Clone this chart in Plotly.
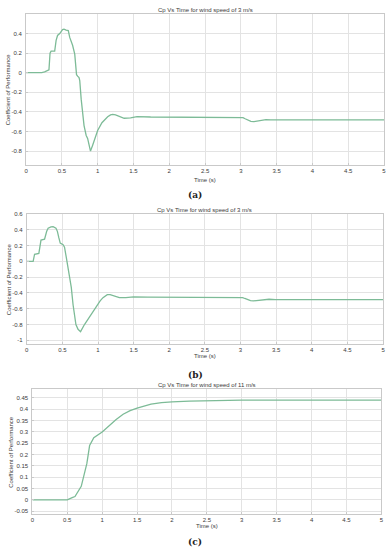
import plotly.graph_objects as go

# Panel (a): wind speed 3 m/s
t_a = [0, 0.22, 0.26, 0.29, 0.32, 0.335, 0.35, 0.40, 0.42, 0.44, 0.47, 0.51, 0.53, 0.56, 0.59,
       0.61, 0.63, 0.65, 0.68, 0.705, 0.72, 0.74, 0.75, 0.77, 0.81, 0.84, 0.86, 0.88, 0.90, 0.93,
       0.96, 1.00, 1.06, 1.10, 1.14, 1.18, 1.21, 1.25, 1.30, 1.37, 1.46, 1.55, 1.74, 3.00, 3.03,
       3.06, 3.10, 3.14, 3.18, 3.22, 3.26, 3.31, 3.35, 3.42, 3.49, 5.0]
cp_a = [0, 0, 0.008, 0.017, 0.03, 0.20, 0.22, 0.22, 0.33, 0.38, 0.40, 0.44, 0.445, 0.435, 0.43,
        0.36, 0.32, 0.28, 0.19, -0.02, -0.035, -0.05, -0.08, -0.27, -0.54, -0.64, -0.67, -0.73,
        -0.80, -0.74, -0.67, -0.59, -0.51, -0.475, -0.45, -0.43, -0.425, -0.43, -0.445, -0.465,
        -0.46, -0.448, -0.452, -0.452, -0.458, -0.47, -0.487, -0.497, -0.50, -0.496, -0.489,
        -0.482, -0.479, -0.481, -0.482, -0.482]

# Panel (b): wind speed 3 m/s
t_b = [0, 0.09, 0.11, 0.17, 0.20, 0.25, 0.28, 0.30, 0.34, 0.37, 0.41, 0.43, 0.45, 0.47, 0.51,
       0.53, 0.555, 0.58, 0.60, 0.625, 0.65, 0.69, 0.72, 0.755, 0.81, 0.88, 0.95, 1.03, 1.07,
       1.10, 1.13, 1.17, 1.20, 1.25, 1.30, 1.39, 1.50, 1.70, 3.00, 3.03, 3.06, 3.10, 3.14, 3.18,
       3.22, 3.28, 3.34, 3.40, 3.49, 5.0]
cp_b = [0, 0, 0.09, 0.10, 0.27, 0.28, 0.38, 0.42, 0.435, 0.44, 0.42, 0.38, 0.30, 0.23, 0.21,
        0.18, 0.05, -0.10, -0.20, -0.33, -0.55, -0.80, -0.86, -0.89, -0.80, -0.70, -0.60, -0.50,
        -0.46, -0.435, -0.422, -0.422, -0.43, -0.45, -0.46, -0.46, -0.45, -0.452, -0.452, -0.458,
        -0.47, -0.487, -0.497, -0.50, -0.496, -0.49, -0.483, -0.48, -0.485, -0.485]

# Panel (c): wind speed 11 m/s
t_c = [0, 0.50, 0.57, 0.61, 0.70, 0.76, 0.78, 0.82, 0.88, 1.00, 1.10, 1.20, 1.30, 1.40, 1.50,
       1.60, 1.70, 1.85, 2.00, 2.25, 2.50, 3.00, 5.0]
cp_c = [0, 0, 0.01, 0.015, 0.06, 0.13, 0.16, 0.24, 0.275, 0.30, 0.328, 0.355, 0.378, 0.394,
        0.405, 0.415, 0.423, 0.429, 0.433, 0.436, 0.438, 0.44, 0.44]

titles = ["Cp Vs Time for wind speed of 3 m/s", "Cp Vs Time for wind speed of 3 m/s",
          "Cp Vs Time for wind speed of 11 m/s"]
labels = ["(a)", "(b)", "(c)"]
x_ticks = [0, 0.5, 1, 1.5, 2, 2.5, 3, 3.5, 4, 4.5, 5]
x_ticktext = ["0", "0.5", "1", "1.5", "2", "2.5", "3", "3.5", "4", "4.5", "5"]
y_ticks_a = [-0.8, -0.6, -0.4, -0.2, 0, 0.2, 0.4]
y_ticks_b = [-1, -0.8, -0.6, -0.4, -0.2, 0, 0.2, 0.4, 0.6]
y_ticks_c = [-0.05, 0, 0.05, 0.1, 0.15, 0.2, 0.25, 0.3, 0.35, 0.4, 0.45]

W, H = 390, 550
LINE = "#7dbb97"
GRID = "#e3e3e3"
FRAME = "#c9c9c9"
TXT = "#3a3a3a"
FONT = "Liberation Sans, Arial, sans-serif"
FS = 6

# pixel boxes: (left, right, top, bottom)
boxes = [(24.3, 386, 11, 163), (25, 385, 212.5, 343), (30.7, 383.3, 388.7, 514.5)]
time_off = [15, 12.5, 12.5]
label_off = [30, 32, 28.5]
ytitle_x = [6, 6.5, 9.5]
yranges = [[-0.94, 0.6], [-1.04, 0.6], [-0.061, 0.49]]
yticks = [y_ticks_a, y_ticks_b, y_ticks_c]
ytick_text = [[("%g" % v) for v in yt] for yt in yticks]
data = [(t_a, cp_a), (t_b, cp_b), (t_c, cp_c)]

fig = go.Figure()
layout = dict(width=W, height=H, margin=dict(l=0, r=0, t=0, b=0),
              paper_bgcolor="white", plot_bgcolor="white", showlegend=False,
              font=dict(family=FONT, size=FS, color=TXT))
annotations = []
for i, ((l, r, t, b), (tx, ty)) in enumerate(zip(boxes, data)):
    sfx = "" if i == 0 else str(i + 1)
    fig.add_trace(go.Scatter(x=tx, y=ty, mode="lines", line=dict(color=LINE, width=1.3),
                             xaxis="x" + sfx, yaxis="y" + sfx))
    common = dict(showgrid=True, gridcolor=GRID, gridwidth=1, zeroline=False,
                  showline=True, linecolor=FRAME, linewidth=1, mirror=True,
                  ticks="inside", ticklen=2, tickcolor=FRAME,
                  tickfont=dict(size=FS, color=TXT, family=FONT))
    layout["xaxis" + sfx] = dict(common, domain=[l / W, r / W], range=[0, 5],
                                 tickvals=x_ticks, ticktext=x_ticktext,
                                 anchor="y" + sfx, ticklabelstandoff=0)
    layout["yaxis" + sfx] = dict(common, domain=[1 - b / H, 1 - t / H], range=yranges[i],
                                 tickvals=yticks[i], ticktext=ytick_text[i],
                                 anchor="x" + sfx, ticklabelstandoff=2)
    cx = (l + r) / 2 / W
    annotations.append(dict(text=titles[i], x=cx, y=1 - (t - 4) / H, xref="paper", yref="paper",
                            showarrow=False, xanchor="center", yanchor="middle",
                            font=dict(size=FS, color=TXT, family=FONT)))
    annotations.append(dict(text="Time (s)", x=cx, y=1 - (b + time_off[i]) / H, xref="paper",
                            yref="paper", showarrow=False, xanchor="center", yanchor="middle",
                            font=dict(size=FS, color=TXT, family=FONT)))
    annotations.append(dict(text="<b>" + labels[i] + "</b>", x=195 / W,
                            y=1 - (b + label_off[i]) / H,
                            xref="paper", yref="paper", showarrow=False,
                            xanchor="center", yanchor="middle",
                            font=dict(size=9, color="#222222", family="DejaVu Serif, serif")))
    annotations.append(dict(text="Coefficient of Performance", x=ytitle_x[i] / W,
                            y=1 - (t + b) / 2 / H, xref="paper", yref="paper",
                            showarrow=False, textangle=-90, xanchor="center", yanchor="middle",
                            font=dict(size=FS, color=TXT, family=FONT)))
layout["annotations"] = annotations
fig.update_layout(**layout)
fig.write_html("out.html", config={"displayModeBar": False},
               post_script="document.body.style.margin='0';")
